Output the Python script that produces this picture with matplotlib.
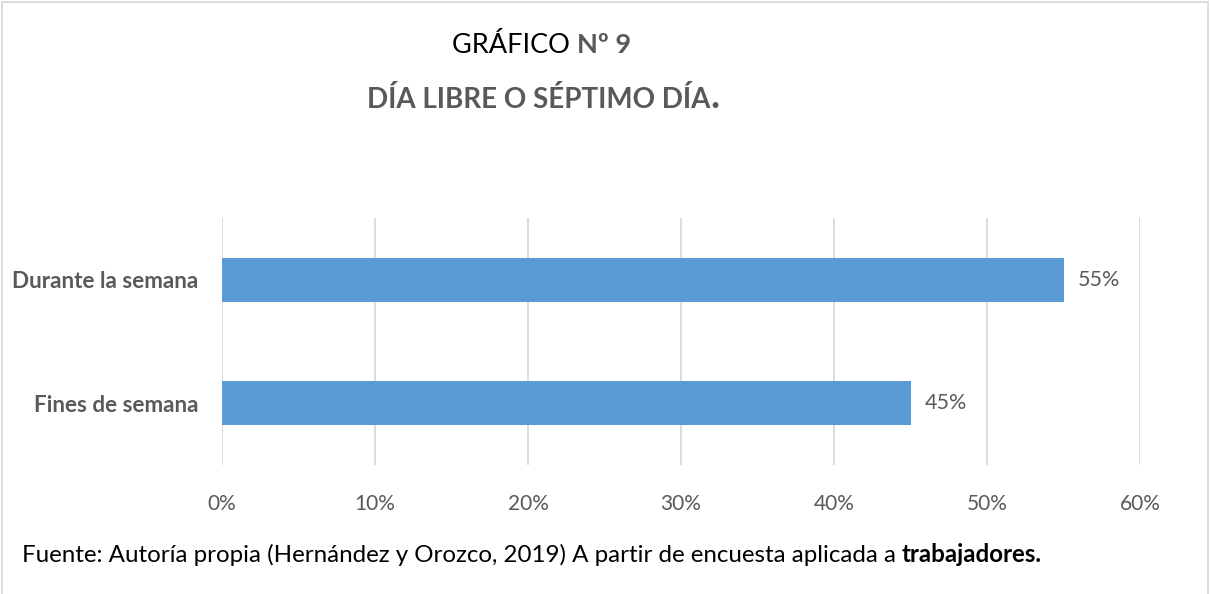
import matplotlib
matplotlib.use('Agg')
import matplotlib.pyplot as plt
from matplotlib.lines import Line2D

plt.rcParams['font.family'] = ['Lato', 'DejaVu Sans']

categories = ['Fines de semana', 'Durante la semana']
values = [0.45, 0.55]
xticks = [0, 0.1, 0.2, 0.3, 0.4, 0.5, 0.6]
xtick_labels = ['0%', '10%', '20%', '30%', '40%', '50%', '60%']

BAR_COLOR = '#5B9BD5'
GRAY = '#595959'
GRID = '#D9D9D9'

W, H = 1210, 594
fig = plt.figure(figsize=(W / 100, H / 100), dpi=100)
ax = fig.add_axes([222 / W, 1 - 465 / H, 918 / W, 247 / H])

ypos = list(range(len(categories)))
ax.barh(ypos, values, height=0.355, color=BAR_COLOR, zorder=3)
for y, v in zip(ypos, values):
    ax.text(v + 0.0095, y, f'{v:.0%}', va='center', ha='left',
            fontsize=15.5, color=GRAY)

ax.set_xlim(0, 0.6)
ax.set_ylim(-0.5, 1.5)
ax.set_xticks(xticks)
ax.set_xticklabels(xtick_labels, fontsize=15, color=GRAY)
ax.set_yticks(ypos)
ax.set_yticklabels(categories, fontsize=16.2, color=GRAY, fontweight='bold')
ax.tick_params(length=0)
ax.tick_params(axis='x', pad=21)
ax.tick_params(axis='y', pad=17)
ax.grid(axis='x', color=GRID, linewidth=1.3, zorder=0)
for s in ax.spines.values():
    s.set_visible(False)

# frame around the chart
fig.add_artist(Line2D([2 / W, 2 / W], [0, 1 - 2 / H], color=GRID, lw=1.3))
fig.add_artist(Line2D([2 / W, 1208 / W], [1 - 2 / H, 1 - 2 / H], color=GRID, lw=1.3))
fig.add_artist(Line2D([1208 / W, 1208 / W], [0, 1 - 2 / H], color=GRID, lw=1.3))

renderer = fig.canvas.get_renderer()


def chain(x, y, parts):
    # draw text pieces one after the other at pixel position x, y
    for txt, kw in parts:
        t = fig.text(x / W, 1 - y / H, txt, va='baseline', ha='left', **kw)
        x += t.get_window_extent(renderer).width


chain(452, 53, [('GRÁFICO ', dict(fontsize=19.5, color='black')),
                ('Nº 9', dict(fontsize=19.5, color=GRAY, fontweight='bold'))])
chain(367, 108, [('DÍA LIBRE O SÉPTIMO DÍA', dict(fontsize=20, color=GRAY, fontweight='bold')),
                 ('.', dict(fontsize=28, color=GRAY, fontweight='bold'))])
chain(22, 562, [('Fuente: Autoría propia (Hernández y Orozco, 2019) A partir de encuesta aplicada a ',
                 dict(fontsize=17.35, color='black')),
                ('trabajadores.', dict(fontsize=17.35, color='black', fontweight='bold'))])

fig.savefig('out.png', dpi=100)
